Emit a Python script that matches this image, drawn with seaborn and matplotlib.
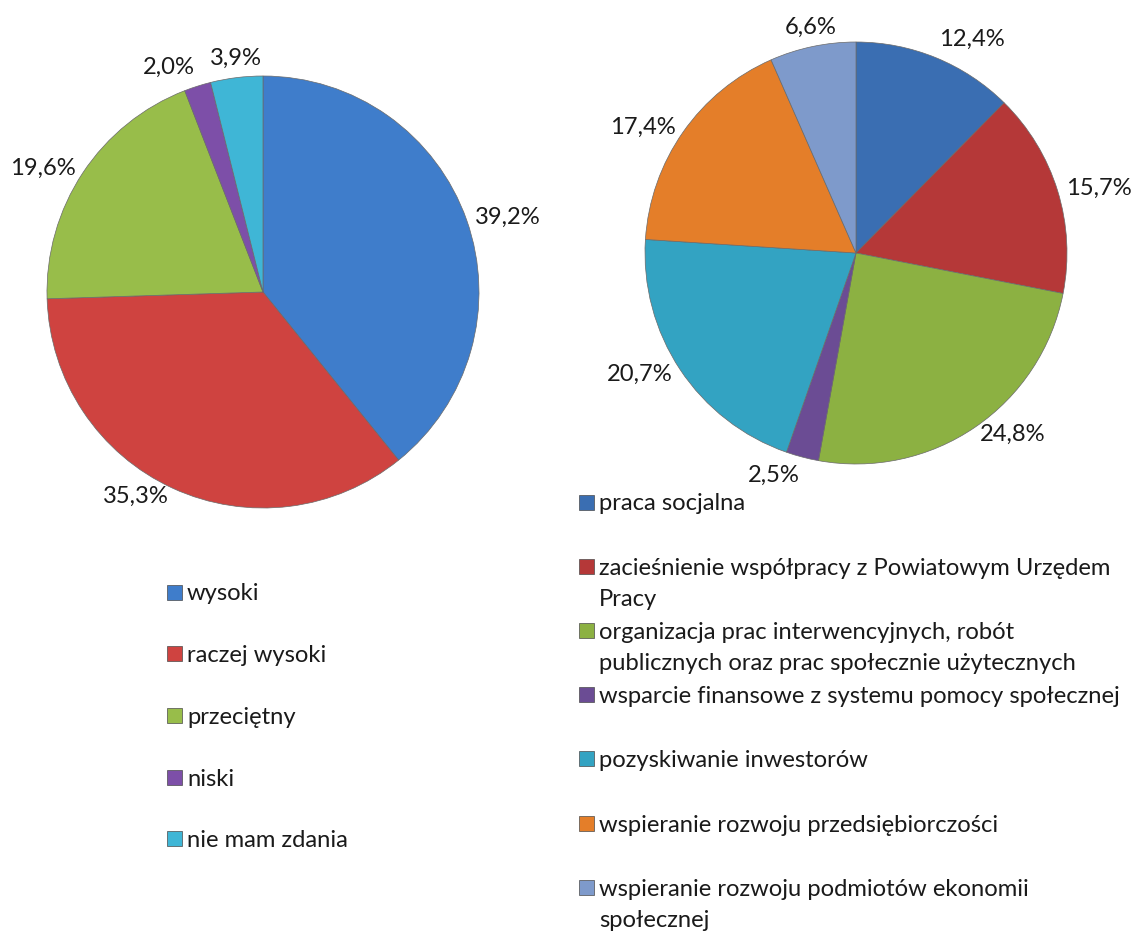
import numpy as np
import matplotlib
matplotlib.use("Agg")
import matplotlib.pyplot as plt
import seaborn as sns
from matplotlib.patches import Rectangle

# ---------------- data ----------------
left_labels = ["wysoki", "raczej wysoki", "przeciętny", "niski", "nie mam zdania"]
left_values = [39.2, 35.3, 19.6, 2.0, 3.9]
left_colors = ["#3F7DCB", "#CF4340", "#98BD4A", "#7D4FA8", "#3FB6D6"]

right_labels = [
    "praca socjalna",
    "zacieśnienie współpracy z Powiatowym Urzędem\nPracy",
    "organizacja prac interwencyjnych, robót\npublicznych oraz prac społecznie użytecznych",
    "wsparcie finansowe z systemu pomocy społecznej",
    "pozyskiwanie inwestorów",
    "wspieranie rozwoju przedsiębiorczości",
    "wspieranie rozwoju podmiotów ekonomii\nspołecznej",
]
right_values = [12.4, 15.7, 24.8, 2.5, 20.7, 17.4, 6.6]
right_colors = ["#3A6EB2", "#B53838", "#8CB142", "#6B4C94", "#33A3C2", "#E47E29", "#7E9ACB"]

# ---------------- style ----------------
sns.set_theme(style="white")
plt.rcParams["font.family"] = ["Lato", "DejaVu Sans"]
TXT = "#1a1a1a"

W, H = 1138, 931
fig = plt.figure(figsize=(W / 100, H / 100), dpi=100)
fig.patch.set_facecolor("white")

# font size fitted to the reference width of a long legend line
renderer = fig.canvas.get_renderer()
probe = fig.text(0, 0, "wsparcie finansowe z systemu pomocy społecznej", fontsize=10)
pw = probe.get_window_extent(renderer).width
probe.remove()
FS = 10 * 522 / pw


def px_axes(cx, cy, r):
    return fig.add_axes([(cx - r) / W, (H - cy - r) / H, 2 * r / W, 2 * r / H])


def draw_pie(ax, values, colors):
    wedges, _ = ax.pie(values, colors=colors, startangle=90, counterclock=False,
                       radius=1, wedgeprops=dict(edgecolor="#6a6a6a", linewidth=0.5))
    ax.set_xlim(-1, 1)
    ax.set_ylim(-1, 1)
    ax.set_aspect("equal")
    ax.axis("off")
    for w, v in zip(wedges, values):
        mid = np.deg2rad((w.theta1 + w.theta2) / 2)
        c, s = np.cos(mid), np.sin(mid)
        r = 1.04
        ha = "left" if c > 0.25 else ("right" if c < -0.25 else "center")
        va = "bottom" if s > 0.75 else ("top" if s < -0.93 else "center")
        ax.text(r * c, r * s, f"{v:.1f}%".replace(".", ","), ha=ha, va=va,
                fontsize=FS, color=TXT, clip_on=False)


axL = px_axes(263, 292, 216)
draw_pie(axL, left_values, left_colors)
axR = px_axes(856, 253, 211)
draw_pie(axR, right_values, right_colors)


def draw_legend(labels, colors, x_marker, x_text, y0, step, line_h, msize=15):
    for i, (lab, col) in enumerate(zip(labels, colors)):
        yc = y0 + i * step
        fig.patches.append(Rectangle(((x_marker) / W, (H - yc - msize / 2) / H),
                                     msize / W, msize / H, transform=fig.transFigure,
                                     facecolor=col, edgecolor="#4a4a4a", linewidth=0.5))
        for j, line in enumerate(lab.split("\n")):
            fig.text(x_text / W, (H - (yc + j * line_h)) / H, line, ha="left",
                     va="center_baseline", fontsize=FS, color=TXT)


draw_legend(left_labels, left_colors, 167, 187, 592, 61.7, 31)
draw_legend(right_labels, right_colors, 579, 599, 502, 64.2, 31)

fig.savefig("out.png", dpi=100, facecolor="white")
